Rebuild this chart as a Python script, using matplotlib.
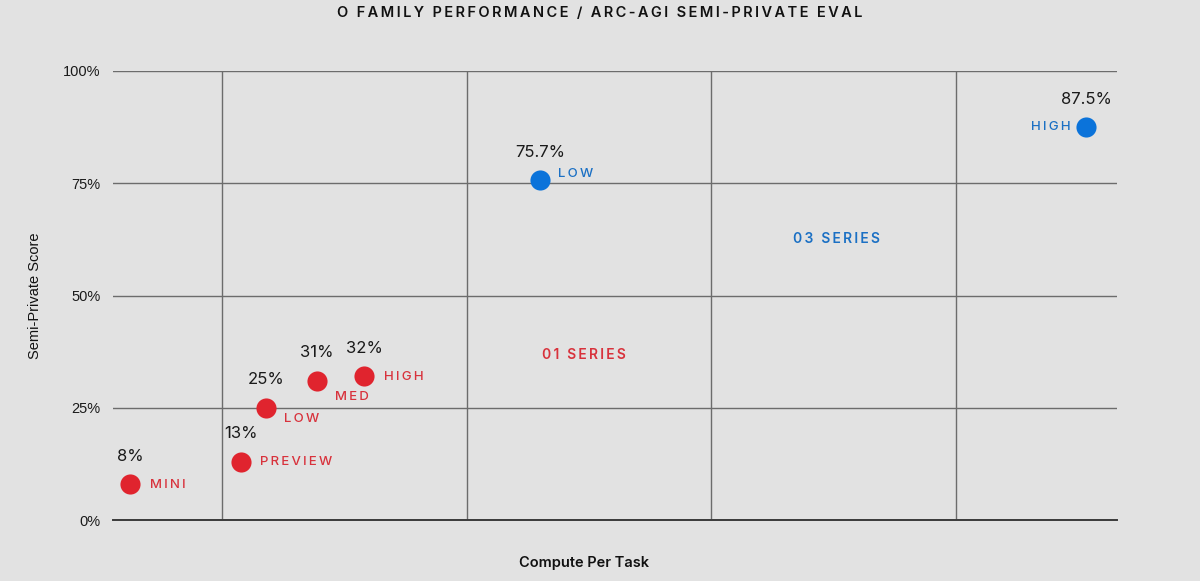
import matplotlib
matplotlib.use("Agg")
import matplotlib.pyplot as plt
from matplotlib.ticker import FixedLocator, NullFormatter

# compute per task (log scale, $ per task) and semi-private score (%)
o1_names = ["MINI", "PREVIEW", "LOW", "MED", "HIGH"]
o1_compute = [0.42, 1.19, 1.51, 2.45, 3.81]
o1_score = [8, 13, 25, 31, 32]
o1_value_labels = ["8%", "13%", "25%", "31%", "32%"]

o3_names = ["LOW", "HIGH"]
o3_compute = [20, 3420]
o3_score = [75.7, 87.5]
o3_value_labels = ["75.7%", "87.5%"]

y_ticks = [0, 25, 50, 75, 100]
y_tick_labels = ["0%", "25%", "50%", "75%", "100%"]
x_grid = [1, 10, 100, 1000]

BG = "#e2e2e2"
RED = "#e0242e"
BLUE = "#0b73da"
RED_TXT = "#d8323c"
BLUE_TXT = "#1b70c4"
GRID = "#6c6c6c"
INTER = ["Inter", "DejaVu Sans"]
ARIAL = ["Liberation Sans", "DejaVu Sans"]


def spaced(s):
    return "\u2009".join(s)


fig = plt.figure(figsize=(12, 5.81), dpi=100, facecolor=BG)
ax = fig.add_axes([113 / 1200, 1 - 520 / 581, 1004 / 1200, 449 / 581])
ax.set_facecolor(BG)
ax.set_xscale("log")
ax.set_xlim(0.358, 4577)
ax.set_ylim(0, 100)

ax.xaxis.set_major_locator(FixedLocator(x_grid))
ax.xaxis.set_minor_locator(FixedLocator([]))
ax.xaxis.set_major_formatter(NullFormatter())
ax.set_yticks(y_ticks)
ax.set_yticklabels(y_tick_labels, fontfamily=ARIAL, fontsize=10.5, color="#1a1a1a")
ax.tick_params(axis="both", length=0)
ax.tick_params(axis="y", pad=9)
ax.grid(True, color=GRID, linewidth=1.0)
ax.set_axisbelow(True)
for side in ["left", "right", "top"]:
    ax.spines[side].set_visible(False)
ax.spines["bottom"].set_color("#3a3a3a")
ax.spines["bottom"].set_linewidth(1.4)

ax.scatter(o1_compute, o1_score, s=210, color=RED, zorder=3, linewidths=0)
ax.scatter(o3_compute, o3_score, s=210, color=BLUE, zorder=3, linewidths=0)

o1_offsets = [(20, -1), (19, 0), (18, -11), (18, -16), (20, -1)]
for x, y, name, val, off in zip(o1_compute, o1_score, o1_names, o1_value_labels, o1_offsets):
    ax.annotate(val, (x, y), xytext=(0, 28), textcoords="offset pixels",
                ha="center", va="center", fontsize=12, color="#1a1a1a", fontfamily=INTER)
    ax.annotate(spaced(name), (x, y), xytext=off, textcoords="offset pixels",
                ha="left", va="center", fontsize=9.5, color=RED_TXT, fontfamily=INTER,
                fontweight="medium")

o3_offsets = [(18, 6), (-15, 0)]
o3_align = ["left", "right"]
for x, y, name, val, off, ha in zip(o3_compute, o3_score, o3_names, o3_value_labels, o3_offsets, o3_align):
    ax.annotate(val, (x, y), xytext=(0, 28), textcoords="offset pixels",
                ha="center", va="center", fontsize=12, color="#1a1a1a", fontfamily=INTER)
    ax.annotate(spaced(name), (x, y), xytext=off, textcoords="offset pixels",
                ha=ha, va="center", fontsize=9.5, color=BLUE_TXT, fontfamily=INTER,
                fontweight="medium")

fig.text(836 / 1200, 1 - 239 / 581, spaced("03 SERIES"), ha="center", va="center",
         fontsize=10, color=BLUE_TXT, fontfamily=INTER, fontweight="semibold")
fig.text(584 / 1200, 1 - 355 / 581, spaced("01 SERIES"), ha="center", va="center",
         fontsize=10, color=RED_TXT, fontfamily=INTER, fontweight="semibold")

fig.text(0.5, 1 - 13 / 581, spaced("O FAMILY PERFORMANCE / ARC-AGI SEMI-PRIVATE EVAL"),
         ha="center", va="center", fontsize=10.5, color="#111111", fontfamily=INTER,
         fontweight="semibold")
fig.text(584 / 1200, 1 - 563 / 581, "Compute Per Task", ha="center", va="center",
         fontsize=10.5, color="#111111", fontfamily=INTER, fontweight="semibold")
fig.text(35 / 1200, 1 - 296 / 581, "Semi-Private Score", ha="center", va="center",
         rotation=90, fontsize=10.5, color="#111111", fontfamily=ARIAL)

fig.savefig("out.png", dpi=100, facecolor=BG)
